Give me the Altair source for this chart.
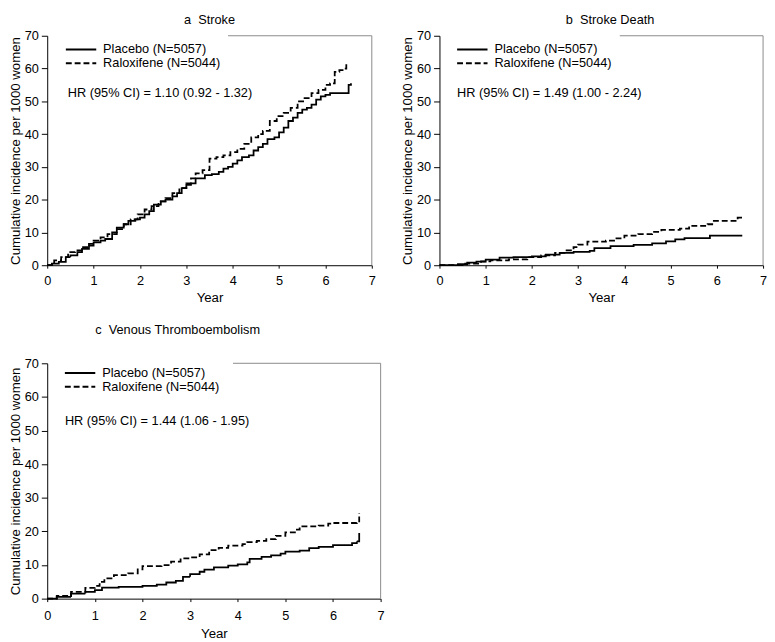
import altair as alt
import pandas as pd

FONT = "Liberation Sans"
GROUPS = ["Placebo (N=5057)", "Raloxifene (N=5044)"]

# ---- Panel a: Stroke ----
a_pl_year = [0, 0.1, 0.25, 0.4, 0.5, 0.65, 0.75, 0.9, 1.0, 1.15, 1.25, 1.4, 1.5, 1.65, 1.75, 1.9, 2.0, 2.1, 2.2, 2.3,
             2.45, 2.55, 2.7, 2.8, 2.9, 3.0, 3.1, 3.2, 3.4, 3.55, 3.7, 3.8, 3.9, 4.0, 4.1, 4.2, 4.35, 4.45, 4.55, 4.65,
             4.75, 4.9, 5.0, 5.1, 5.2, 5.3, 5.4, 5.5, 5.6, 5.7, 5.8, 5.9, 6.0, 6.1, 6.2, 6.5, 6.55]
a_pl_inc = [0, 0.5, 1, 2.5, 3, 4, 5, 6, 7, 7.5, 8, 10, 11.5, 12.5, 13.5, 14, 14.5, 15.5, 16.5, 18.5,
            19.5, 20, 21, 22, 23.5, 24.5, 25, 26.5, 27.5, 27.8, 28.5, 29.5, 30, 31, 32, 33, 33.5, 35, 36, 37,
            38.5, 39, 40.5, 42, 44, 45, 46.5, 47.5, 48, 49, 50.5, 51.5, 52, 52.5, 52.5, 55, 55.5]
a_rx_year = [0, 0.15, 0.3, 0.45, 0.6, 0.75, 0.9, 1.0, 1.15, 1.3, 1.5, 1.65, 1.8, 1.95, 2.1, 2.25, 2.4, 2.55, 2.7, 2.85,
             3.0, 3.1, 3.2, 3.35, 3.5, 3.65, 3.8, 3.95, 4.1, 4.25, 4.4, 4.55, 4.65, 4.8, 4.95, 5.1, 5.25, 5.4, 5.55,
             5.7, 5.85, 6.0, 6.1, 6.2, 6.3, 6.4, 6.45]
a_rx_inc = [0, 1.5, 2.5, 4, 4.5, 5.5, 6.5, 7.5, 8.5, 9.5, 11, 12.5, 14, 15.5, 17, 18, 19.5, 20.5, 22, 23.5,
            25, 26.5, 28, 29, 32.5, 33, 33.5, 34.5, 35.5, 37, 39, 40, 41, 44, 45.5, 46.5, 48, 50, 51,
            52.5, 53.5, 55, 55.5, 59, 59.5, 60, 61.5]

# ---- Panel b: Stroke Death ----
b_pl_year = [0, 0.4, 0.6, 0.8, 1.0, 1.3, 1.6, 2.0, 2.3, 2.6, 2.9, 3.25, 3.35, 3.7, 4.2, 4.6, 4.9, 5.1, 5.3, 5.85, 6.55]
b_pl_inc = [0, 0.3, 0.8, 1.1, 1.7, 2.3, 2.5, 2.7, 3.2, 3.8, 4.1, 4.4, 5.2, 5.8, 6.2, 6.7, 7.3, 7.9, 8.3, 9.0, 9.0]
b_rx_year = [0, 0.5, 0.9, 1.1, 1.5, 1.9, 2.2, 2.5, 2.75, 2.9, 3.0, 3.2, 3.6, 3.8, 4.0, 4.3, 4.6, 4.8, 5.2, 5.4,
             5.8, 5.9, 6.4, 6.45, 6.55]
b_rx_inc = [0, 0.5, 1.2, 1.5, 1.8, 2.5, 3.0, 3.8, 4.5, 5.5, 6.3, 7.2, 7.5, 8.2, 9.0, 9.5, 10.2, 10.8, 11.2, 12.0,
            12.5, 13.5, 13.5, 14.5, 14.7]

# ---- Panel c: Venous Thromboembolism ----
c_pl_year = [0, 0.2, 0.5, 0.8, 1.0, 1.15, 1.5, 2.0, 2.3, 2.5, 2.7, 2.85, 3.0, 3.2, 3.3, 3.5, 3.8, 4.0, 4.2, 4.25,
             4.5, 4.7, 4.9, 5.0, 5.3, 5.5, 5.7, 6.0, 6.4, 6.5, 6.55]
c_pl_inc = [0, 0.5, 1.5, 2.0, 2.5, 3.3, 3.5, 3.8, 4.2, 4.8, 5.3, 6.5, 7.3, 8.0, 8.6, 9.3, 9.8, 10.2, 10.8, 11.8,
            12.4, 12.9, 13.4, 14.0, 14.3, 15.0, 15.4, 15.9, 16.5, 17.0, 19.5]
c_rx_year = [0, 0.2, 0.5, 0.8, 1.0, 1.1, 1.2, 1.4, 1.7, 1.9, 2.0, 2.4, 2.6, 2.8, 3.0, 3.2, 3.4, 3.6, 3.8, 4.1,
             4.2, 4.4, 4.6, 4.8, 5.0, 5.2, 5.3, 5.7, 5.9, 6.0, 6.5, 6.55]
c_rx_inc = [0, 0.8, 2.0, 3.2, 3.8, 5.0, 6.0, 7.0, 7.5, 8.7, 9.7, 10.0, 11.0, 12.0, 12.3, 13.2, 14.4, 15.1, 15.8, 16.2,
            16.8, 17.2, 17.7, 18.7, 19.7, 20.5, 21.5, 21.7, 22.3, 22.5, 22.6, 25.5]

TITLES = ["a\u00a0 Stroke", "b\u00a0 Stroke Death", "c\u00a0 Venous Thromboembolism"]
HR_TEXT = ["HR (95% CI) = 1.10 (0.92 - 1.32)",
           "HR (95% CI) = 1.49 (1.00 - 2.24)",
           "HR (95% CI) = 1.44 (1.06 - 1.95)"]
X_TICKS = [0, 1, 2, 3, 4, 5, 6, 7]
Y_TICKS = [0, 10, 20, 30, 40, 50, 60, 70]


def panel(title, pl_x, pl_y, rx_x, rx_y, hr, w, h, t_offset, t_dx, lx, ly, hx, hy, x_lpad, x_tpad):
    df = pd.concat([
        pd.DataFrame({"Year": pl_x, "Inc": pl_y, "Group": GROUPS[0]}),
        pd.DataFrame({"Year": rx_x, "Inc": rx_y, "Group": GROUPS[1]}),
    ])
    x_scale = alt.Scale(domain=[0, 7], nice=False, zero=False)
    y_scale = alt.Scale(domain=[0, 70], nice=False)
    x_axis = alt.Axis(values=X_TICKS, title="Year", tickSize=3, labelPadding=x_lpad, titlePadding=x_tpad,
                      labelFlush=False, labelOverlap=False, format="d")
    y_axis = alt.Axis(values=Y_TICKS, title="Cumulative incidence per 1000 women", tickSize=6,
                      labelPadding=3, titlePadding=2, labelFlush=False, labelOverlap=False, format="d")
    lines = alt.Chart(df).mark_line(interpolate="step-after", color="black", strokeWidth=1.8).encode(
        x=alt.X("Year:Q", scale=x_scale, axis=x_axis),
        y=alt.Y("Inc:Q", scale=y_scale, axis=y_axis),
        strokeDash=alt.StrokeDash(
            "Group:N",
            scale=alt.Scale(domain=GROUPS, range=[[1, 0], [6, 3]]),
            legend=alt.Legend(title=None, orient="none", legendX=lx, legendY=ly,
                              symbolType="stroke", symbolSize=961, symbolStrokeWidth=2,
                              symbolStrokeColor="black", labelFont=FONT, labelFontSize=13,
                              labelColor="black", labelOffset=6, clipHeight=10, rowPadding=1,
                              padding=0),
        ),
    )
    one = alt.Data(values=[{}])
    top = alt.Chart(one).mark_rule(color="#8a8a8a", strokeWidth=1).encode(
        x=alt.XDatum(3.9, type="quantitative", scale=x_scale, axis=x_axis),
        x2=alt.datum(7),
        y=alt.YDatum(70, type="quantitative", scale=y_scale, axis=y_axis))
    right = alt.Chart(one).mark_rule(color="#8a8a8a", strokeWidth=1).encode(
        x=alt.XDatum(7, type="quantitative", scale=x_scale, axis=x_axis),
        y=alt.YDatum(0, type="quantitative", scale=y_scale, axis=y_axis),
        y2=alt.datum(70))
    txt = alt.Chart(one).mark_text(align="left", baseline="middle", font=FONT, fontSize=13,
                                   color="black", text=hr).encode(
        x=alt.value(hx), y=alt.value(hy))
    return alt.layer(lines, top, right, txt).properties(
        width=w, height=h,
        title=alt.TitleParams(text=title, font=FONT, fontSize=13, fontWeight="normal",
                              color="black", offset=t_offset, dx=t_dx, anchor="middle",
                              frame="group"),
    )


pa = panel(TITLES[0], a_pl_year, a_pl_inc, a_rx_year, a_rx_inc, HR_TEXT[0],
           331, 234, 3, 0, 18, 9, 21, 58, 7, 3)
pb = panel(TITLES[1], b_pl_year, b_pl_inc, b_rx_year, b_rx_inc, HR_TEXT[1],
           330, 234, 3, 9, 17, 9, 18, 58, 7, 3)
pc = panel(TITLES[2], c_pl_year, c_pl_inc, c_rx_year, c_rx_inc, HR_TEXT[2],
           340, 240, 21, -37, 17, 5, 18, 59, 8, 5)

row1 = alt.hconcat(pa, pb, spacing=25).resolve_scale(strokeDash="independent").resolve_legend(
    strokeDash="independent")

chart = alt.vconcat(row1, pc, spacing=20).resolve_scale(strokeDash="independent").resolve_legend(
    strokeDash="independent").properties(
    padding={"left": 0, "top": 0, "right": 0, "bottom": 0}
).configure_axis(
    labelFont=FONT, titleFont=FONT, labelFontSize=13, titleFontSize=13.5, titleFontWeight="normal",
    labelColor="black", titleColor="black", domainColor="black", tickColor="black",
    domainWidth=1, tickWidth=1, grid=False,
).configure_view(stroke=None)

chart.save("out.html", embed_options={"renderer": "svg", "actions": False})
